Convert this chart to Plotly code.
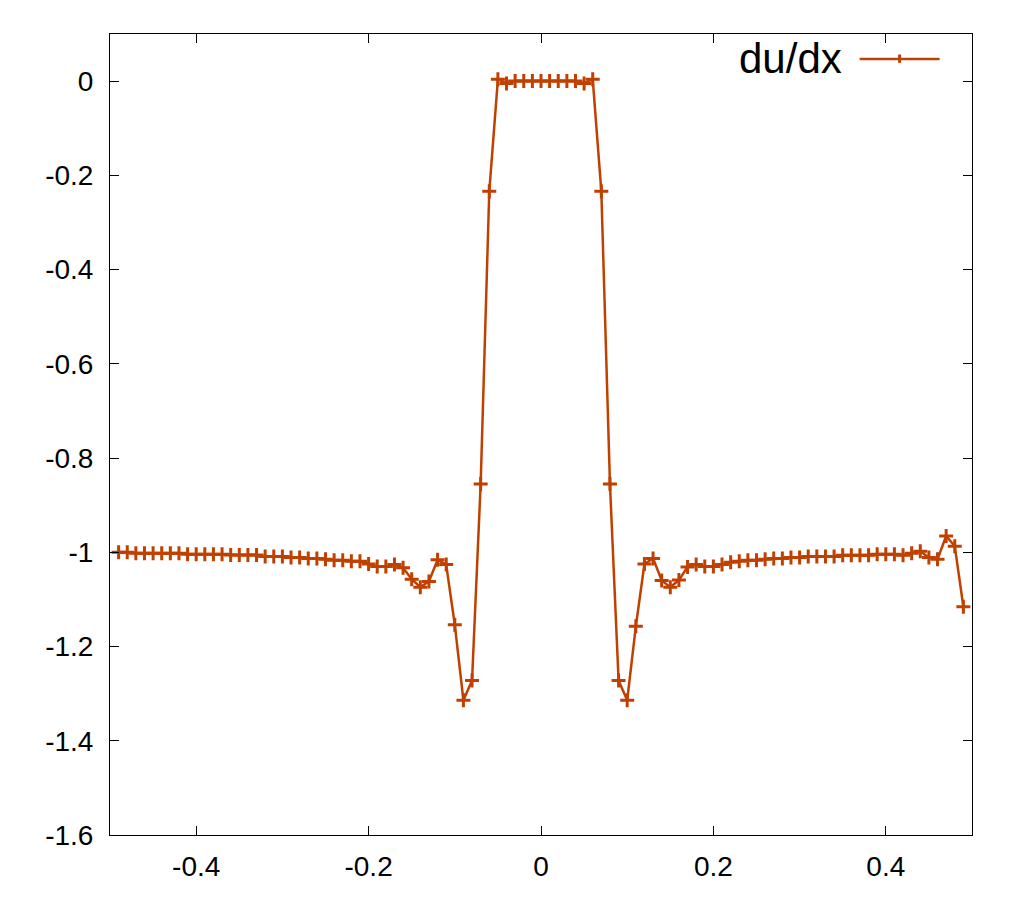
import plotly.graph_objects as go

# grid points, spacing 0.01
x_vals = [round(-0.49 + 0.01 * i, 2) for i in range(99)]

du_dx = [
    -1.000, -1.000, -1.002, -1.002, -1.002, -1.002, -1.002, -1.002, -1.004, -1.004,
    -1.004, -1.004, -1.004, -1.006, -1.006, -1.006, -1.006, -1.009, -1.009, -1.009,
    -1.011, -1.011, -1.013, -1.013, -1.015, -1.017, -1.017, -1.019, -1.019, -1.025,
    -1.030, -1.030, -1.026, -1.033, -1.057, -1.074, -1.062, -1.016, -1.026, -1.154,
    -1.314, -1.272, -0.855, -0.234, 0.004, -0.005, 0.000, 0.000, 0.000, 0.000,
    0.000, 0.000, 0.000, 0.000, -0.005, 0.004, -0.234, -0.855, -1.272, -1.314,
    -1.157, -1.025, -1.013, -1.060, -1.074, -1.059, -1.031, -1.026, -1.030, -1.030,
    -1.026, -1.021, -1.019, -1.017, -1.017, -1.015, -1.013, -1.013, -1.011, -1.011,
    -1.009, -1.009, -1.009, -1.009, -1.0065, -1.0065, -1.0065, -1.0065, -1.004, -1.004,
    -1.004, -1.0065, -1.002, -0.998, -1.011, -1.015, -0.9655, -0.987, -1.1155,
]

x_ticks = [-0.4, -0.2, 0, 0.2, 0.4]
x_labels = ["-0.4", "-0.2", "0", "0.2", "0.4"]
y_ticks = [-1.6, -1.4, -1.2, -1.0, -0.8, -0.6, -0.4, -0.2, 0]
y_labels = ["-1.6", "-1.4", "-1.2", "-1", "-0.8", "-0.6", "-0.4", "-0.2", "0"]

line_color = "rgb(192,64,0)"

fig = go.Figure()
fig.add_trace(go.Scatter(
    x=x_vals, y=du_dx, mode="lines+markers", name="du/dx",
    line=dict(color=line_color, width=2.5),
    marker=dict(symbol="cross-thin", size=10, line=dict(color=line_color, width=3)),
    showlegend=False,
))

# gnuplot style key: text on the left, sample on the right
fig.add_annotation(x=0.851, y=0.969, xref="paper", yref="paper", text="du/dx",
                   showarrow=False, xanchor="right", yanchor="middle",
                   font=dict(size=42, color="black", family="Liberation Sans, Arial"))
fig.add_shape(type="line", xref="paper", yref="paper", x0=0.8697, x1=0.9625, y0=0.9688, y1=0.9688,
              line=dict(color=line_color, width=2.5))
fig.add_shape(type="line", xref="paper", yref="paper", x0=0.916, x1=0.916, y0=0.9640, y1=0.9744,
              line=dict(color=line_color, width=3))

axis_common = dict(showline=True, linecolor="black", linewidth=1, mirror="ticks",
                   ticks="inside", ticklen=9, tickcolor="black", tickwidth=1,
                   showgrid=False, zeroline=False,
                   tickfont=dict(size=28, color="black", family="Liberation Sans, Arial"))

fig.update_xaxes(range=[-0.5, 0.5], tickvals=x_ticks, ticktext=x_labels,
                 ticklabelstandoff=6, **axis_common)
fig.update_yaxes(range=[-1.6, 0.1], tickvals=y_ticks, ticktext=y_labels,
                 ticklabelstandoff=10, **axis_common)

fig.update_layout(width=1024, height=900, plot_bgcolor="white", paper_bgcolor="white",
                  margin=dict(l=102, r=60, t=26, b=73))

fig.write_html("out.html")
